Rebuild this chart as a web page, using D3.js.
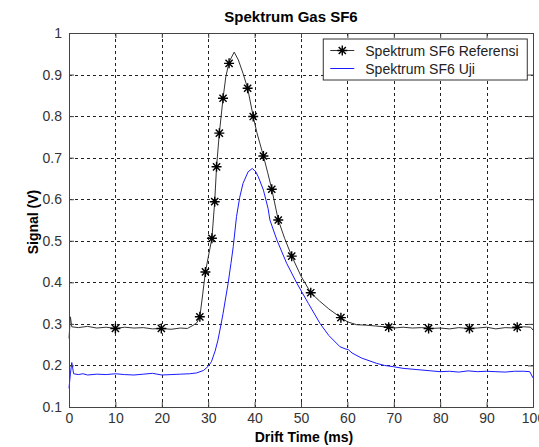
<!DOCTYPE html>
<html>
<head>
<meta charset="utf-8">
<script src="https://cdn.jsdelivr.net/npm/d3@7"></script>
<style>
  body { margin: 0; background: #fff; }
  text { font-family: "Liberation Sans", Arial, sans-serif; }
</style>
</head>
<body>
<div id="chart"></div>
<script>

// Reference spectrum (black line)
var refTime = [0, 0.3, 0.6, 2, 4, 6, 8, 10, 12, 14, 16, 18, 20, 22, 24, 25.5, 26.5, 27.5, 28.2, 28.8, 29.4, 30, 30.8, 31.4, 31.8, 32.4, 33.2, 33.8, 34.5, 35.6, 36.5, 37.5, 38.5, 39.7, 40.5, 41.9, 42.8, 43.7, 45.1, 46.5, 48, 50, 52.1, 54, 56, 58.6, 60, 62, 64, 66, 68, 70, 72, 74, 76, 78, 80, 82, 84, 86, 88, 90, 92, 94, 96, 98, 99.5, 100];
var refSignal = [0.265, 0.317, 0.293, 0.291, 0.294, 0.29, 0.292, 0.289, 0.292, 0.29, 0.291, 0.288, 0.289, 0.287, 0.29, 0.289, 0.295, 0.302, 0.317, 0.37, 0.425, 0.46, 0.506, 0.594, 0.678, 0.759, 0.843, 0.895, 0.93, 0.954, 0.935, 0.903, 0.867, 0.799, 0.76, 0.704, 0.665, 0.624, 0.55, 0.505, 0.463, 0.415, 0.375, 0.355, 0.336, 0.315, 0.305, 0.298, 0.297, 0.295, 0.293, 0.29, 0.292, 0.29, 0.291, 0.289, 0.29, 0.288, 0.291, 0.289, 0.29, 0.292, 0.288, 0.291, 0.29, 0.293, 0.292, 0.285];

// Marker points on the reference spectrum
var markTime = [10, 19.9, 28.2, 29.4, 30.8, 31.4, 31.8, 32.4, 33.2, 34.5, 38.5, 39.7, 41.9, 43.7, 45.1, 48, 52.1, 58.6, 68.9, 77.5, 86.3, 96.6];
var markSignal = [0.289, 0.289, 0.317, 0.425, 0.506, 0.594, 0.678, 0.759, 0.843, 0.927, 0.867, 0.799, 0.704, 0.624, 0.55, 0.463, 0.375, 0.315, 0.292, 0.289, 0.289, 0.292];

// Test spectrum (blue line)
var testTime = [0, 0.3, 0.6, 1, 2, 3, 4, 6, 8, 10, 12, 14, 16, 18, 20, 22, 24, 26, 27.5, 29, 30, 30.7, 31.5, 32.1, 32.7, 33.2, 33.8, 34.3, 34.9, 35.4, 36.1, 36.8, 37.5, 38.6, 39.5, 40.2, 40.8, 41.9, 42.9, 43.3, 44.8, 46.9, 49.1, 51.6, 54.1, 56, 58.4, 59.5, 60.2, 61, 63, 66.3, 68, 69.9, 72, 75, 78, 80, 82, 84, 86, 88, 90, 92, 94, 96, 98, 99.3, 100];
var testSignal = [0.145, 0.18, 0.207, 0.18, 0.178, 0.18, 0.177, 0.179, 0.178, 0.18, 0.178, 0.177, 0.179, 0.181, 0.177, 0.178, 0.179, 0.18, 0.182, 0.188, 0.198, 0.209, 0.235, 0.261, 0.295, 0.325, 0.365, 0.398, 0.445, 0.486, 0.558, 0.605, 0.638, 0.666, 0.674, 0.667, 0.654, 0.622, 0.578, 0.55, 0.502, 0.446, 0.398, 0.349, 0.301, 0.272, 0.245, 0.24, 0.238, 0.23, 0.218, 0.205, 0.2, 0.197, 0.193, 0.19, 0.187, 0.185, 0.186, 0.184, 0.187, 0.185, 0.186, 0.185, 0.184, 0.186, 0.186, 0.185, 0.17];

var xTicks = [0, 10, 20, 30, 40, 50, 60, 70, 80, 90, 100];
var yTicks = [0.1, 0.2, 0.3, 0.4, 0.5, 0.6, 0.7, 0.8, 0.9, 1];
var seriesNames = ["Spektrum SF6 Referensi", "Spektrum SF6 Uji"];

var margin = {top: 33, right: 6, bottom: 40, left: 69};
var width = 539 - margin.left - margin.right;
var height = 447 - margin.top - margin.bottom;

var svg = d3.select("#chart").append("svg")
    .attr("width", 539)
    .attr("height", 447);

var g = svg.append("g")
    .attr("transform", "translate(" + margin.left + "," + margin.top + ")");

var x = d3.scaleLinear().domain([0, 100]).range([0, width]);
var y = d3.scaleLinear().domain([0.1, 1]).range([height, 0]);

// white plot background
g.append("rect")
    .attr("width", width)
    .attr("height", height)
    .attr("fill", "#fff");

// dotted grid
g.selectAll(".gx").data(xTicks.slice(1, -1)).enter().append("line")
    .attr("x1", d => Math.round(x(d)) + 0.5).attr("x2", d => Math.round(x(d)) + 0.5)
    .attr("y1", 0).attr("y2", height)
    .attr("stroke", "#222").attr("stroke-dasharray", "3,3");

g.selectAll(".gy").data(yTicks.slice(1, -1)).enter().append("line")
    .attr("y1", d => Math.round(y(d)) + 0.5).attr("y2", d => Math.round(y(d)) + 0.5)
    .attr("x1", 0).attr("x2", width)
    .attr("stroke", "#222").attr("stroke-dasharray", "3,3");

// lines
var line = d3.line().x(d => x(d[0])).y(d => y(d[1]));

g.append("path")
    .datum(testTime.map((t, i) => [t, testSignal[i]]))
    .attr("d", line)
    .attr("fill", "none")
    .attr("stroke", "#1a1aff")
    .attr("stroke-width", 1);

g.append("path")
    .datum(refTime.map((t, i) => [t, refSignal[i]]))
    .attr("d", line)
    .attr("fill", "none")
    .attr("stroke", "#333")
    .attr("stroke-width", 1);

// asterisk marker
function star(cx, cy, r){
    var p = d3.path();
    p.moveTo(cx - r, cy); p.lineTo(cx + r, cy);
    p.moveTo(cx, cy - r); p.lineTo(cx, cy + r);
    var k = r * 0.72;
    p.moveTo(cx - k, cy - k); p.lineTo(cx + k, cy + k);
    p.moveTo(cx - k, cy + k); p.lineTo(cx + k, cy - k);
    return p.toString();
}

g.selectAll(".mark").data(markTime.map((t, i) => [t, markSignal[i]])).enter().append("path")
    .attr("d", d => star(x(d[0]), y(d[1]), 5))
    .attr("fill", "none")
    .attr("stroke", "#000")
    .attr("stroke-width", 1.4);

// axes box with inward ticks
var xaxisB = d3.axisBottom(x).tickValues(xTicks).tickSize(-5).tickPadding(6).tickFormat(d3.format("d"));
var xaxisT = d3.axisTop(x).tickValues(xTicks).tickSize(-5).tickFormat("");
var yaxisL = d3.axisLeft(y).tickValues(yTicks).tickSize(-5).tickPadding(7).tickFormat(d => d === 1 ? "1" : d3.format(".1f")(d));
var yaxisR = d3.axisRight(y).tickValues(yTicks).tickSize(-5).tickFormat("");

g.append("g").attr("transform", "translate(0," + height + ")").call(xaxisB);
g.append("g").call(xaxisT);
g.append("g").call(yaxisL);
g.append("g").attr("transform", "translate(" + width + ",0)").call(yaxisR);

g.selectAll(".domain").attr("stroke", "#444");
g.selectAll(".tick line").attr("stroke", "#444");
g.selectAll(".tick text")
    .attr("font-family", "Liberation Sans, Arial, sans-serif")
    .attr("font-size", 14)
    .attr("fill", "#333");

// legend
var legend = g.append("g")
    .attr("transform", "translate(" + (x(54.8)) + "," + 6 + ")");

legend.append("rect")
    .attr("width", 204).attr("height", 41)
    .attr("fill", "#fff").attr("stroke", "#333");

legend.append("line")
    .attr("x1", 7).attr("x2", 31).attr("y1", 11.5).attr("y2", 11.5)
    .attr("stroke", "#333");
legend.append("path")
    .attr("d", star(19, 11.5, 5))
    .attr("fill", "none").attr("stroke", "#000").attr("stroke-width", 1.4);
legend.append("line")
    .attr("x1", 7).attr("x2", 31).attr("y1", 29.5).attr("y2", 29.5)
    .attr("stroke", "#1a1aff");

legend.selectAll(".lt").data(seriesNames).enter().append("text")
    .attr("x", 42)
    .attr("y", (d, i) => 16.5 + i * 18)
    .attr("font-size", 14)
    .attr("fill", "#222")
    .text(d => d);

// titles
svg.append("text")
    .attr("x", 291).attr("y", 22)
    .attr("text-anchor", "middle")
    .attr("font-size", 15).attr("font-weight", "bold")
    .text("Spektrum Gas SF6");

svg.append("text")
    .attr("x", 304).attr("y", 442)
    .attr("text-anchor", "middle")
    .attr("font-size", 14).attr("font-weight", "bold")
    .text("Drift Time (ms)");

svg.append("text")
    .attr("transform", "translate(38,222) rotate(-90)")
    .attr("text-anchor", "middle")
    .attr("font-size", 14).attr("font-weight", "bold")
    .text("Signal (V)");

</script>
</body>
</html>
